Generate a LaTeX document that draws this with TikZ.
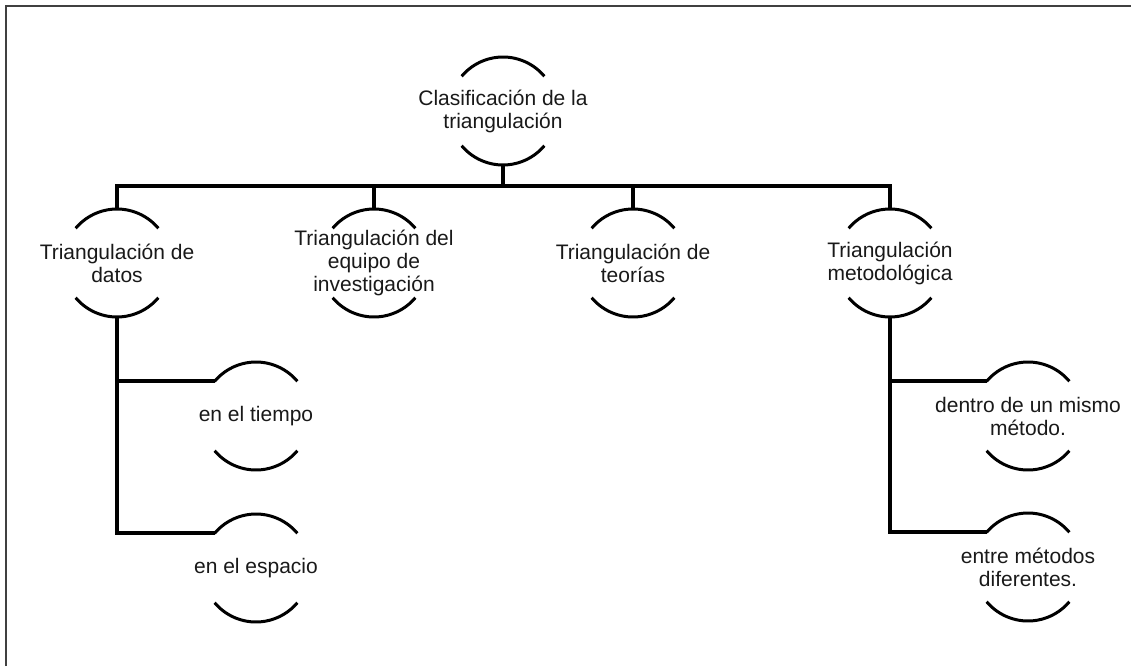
\documentclass[tikz,border=0pt]{standalone}
\usepackage{fontspec}
\setmainfont{Liberation Sans}
\usetikzlibrary{calc}

\tikzset{
  concept/.style={align=center, inner sep=0pt, text=black!90,
    font=\fontsize{21}{23}\selectfont},
  arcline/.style={line width=3pt, black},
  link/.style={line width=4pt, black},
  frame/.style={line width=2pt, black!75}
}

% Arcs above and below a concept, plus its connection points
\newcommand{\capnode}[1]{%
  \draw[arcline] ([shift={(40:54pt)}]#1.center)
    arc[start angle=40, end angle=140, radius=54pt] ; %
  \draw[arcline] ([shift={(220:54pt)}]#1.center)
    arc[start angle=220, end angle=320, radius=54pt] ; %
  \coordinate (#1-t)  at ([yshift=54pt]#1.center) ; %
  \coordinate (#1-b)  at ([yshift=-54pt]#1.center) ; %
  \coordinate (#1-in) at ([shift={(140:54pt)}]#1.center) ; %
}

\begin{document}
\begin{tikzpicture}[x=1pt, y=-1pt]

  \useasboundingbox (0,0) rectangle (1131,666) ;

  % Frame
  \draw[frame] (5.5,666) -- (5.5,6.5) -- (1131,6.5) ;

  % Layout the concepts
  \node[concept] (root)    at (503,111) {Clasificación de la\\triangulación} ; %
  \node[concept] (datos)   at (117,263) {Triangulación de\\datos} ; %
  \node[concept] (equipo)  at (374,263) {Triangulación del\\equipo de\\investigación} ; %
  \node[concept] (teorias) at (633,263) {Triangulación de\\teorías} ; %
  \node[concept] (metodo)  at (890,263) {Triangulación\\metodológica} ; %
  \node[concept] (tiempo)  at (256,416) {en el tiempo} ; %
  \node[concept] (espacio) at (256,568) {en el espacio} ; %
  \node[concept] (mismo)   at (1028,416) {dentro de un mismo\\método.} ; %
  \node[concept] (difer)   at (1028,567) {entre métodos\\diferentes.} ; %

  % Arcs
  \capnode{root} %
  \capnode{datos} %
  \capnode{equipo} %
  \capnode{teorias} %
  \capnode{metodo} %
  \capnode{tiempo} %
  \capnode{espacio} %
  \capnode{mismo} %
  \capnode{difer} %

  % First level
  \coordinate (bus) at (root-b |- 0,186) ;
  \draw[link] (root-b) -- (bus) ; %
  \draw[link] (datos-t) -- (datos-t |- bus) -- (metodo-t |- bus) -- (metodo-t) ; %
  \draw[link] (equipo-t) -- (equipo-t |- bus) ; %
  \draw[link] (teorias-t) -- (teorias-t |- bus) ; %

  % Second level
  \draw[link] (datos-b) |- (tiempo-in) ; %
  \draw[link] (datos-b) |- (espacio-in) ; %
  \draw[link] (metodo-b) |- (mismo-in) ; %
  \draw[link] (metodo-b) |- (difer-in) ; %

\end{tikzpicture}
\end{document}
